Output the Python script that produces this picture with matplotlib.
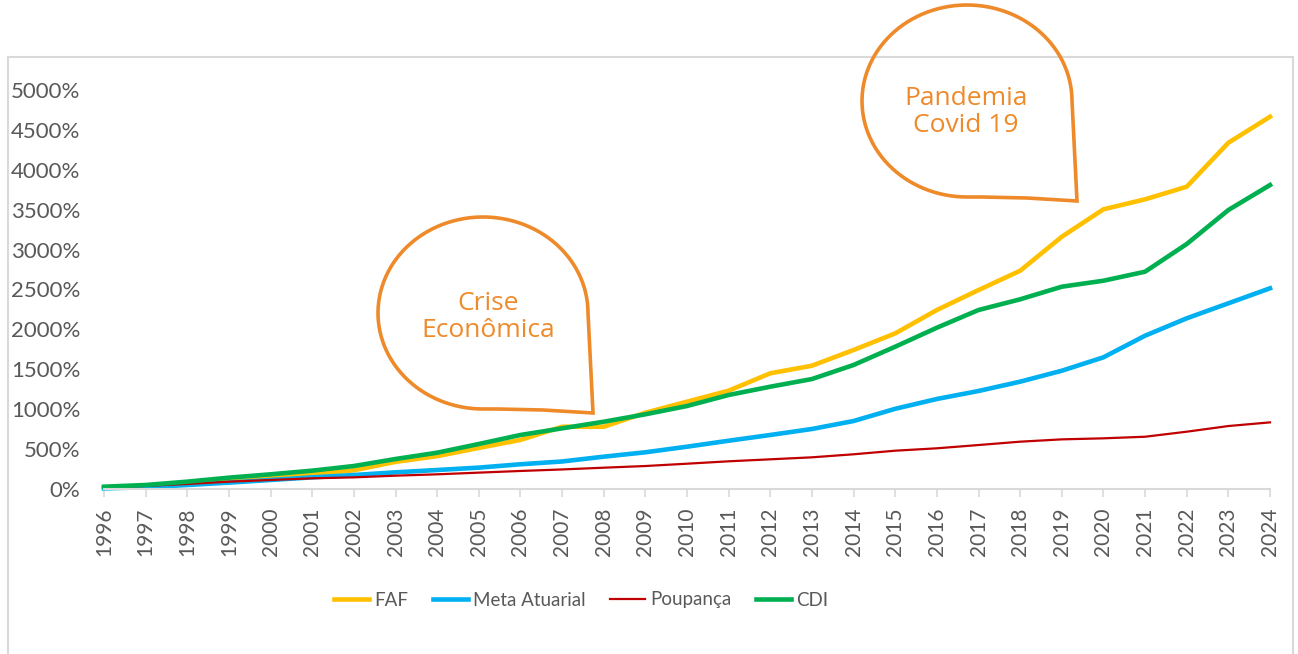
import numpy as np
import matplotlib

matplotlib.use("Agg")
import matplotlib.pyplot as plt
from matplotlib.patches import Rectangle, PathPatch
from matplotlib.path import Path


YEARS = list(range(1996, 2025))

FAF = [20, 40, 75, 113, 146, 184, 235, 340, 412, 515, 615, 780, 780, 956, 1094,
       1232, 1450, 1545, 1742, 1950, 2243, 2493, 2735, 3161, 3505, 3630, 3788, 4339, 4665]
META = [8, 22, 50, 80, 113, 146, 175, 209, 238, 268, 310, 345, 405, 460, 530,
        605, 677, 752, 852, 1005, 1128, 1228, 1345, 1482, 1650, 1921, 2139, 2327, 2515]
POUPANCA = [20, 38, 63, 92, 113, 134, 146, 167, 184, 205, 226, 245, 267, 288, 317,
            347, 372, 397, 435, 480, 510, 551, 593, 622, 635, 655, 718, 789, 835]
CDI = [29, 50, 92, 142, 184, 230, 288, 376, 455, 564, 677, 760, 843, 936, 1040,
       1178, 1282, 1378, 1554, 1783, 2021, 2243, 2377, 2535, 2610, 2723, 3070, 3496, 3809]

Y_TICKS = list(range(0, 5001, 500))

CALLOUTS = [
    ("Crise\nEconômica", (483, 313), (488, 317)),
    ("Pandemia\nCovid 19", (967, 101), (966, 112)),
]

W, H = 1298, 654
GREY_TEXT = "#595959"
ORANGE = "#EE8A2A"
FONT = "Lato"


def px(x, y):
    # pixel coords (top-left origin) -> figure fraction
    return x / W, 1 - y / H


def bubble_path(cx, cy, rx=105, ry=96):
    # speech bubble: ellipse with the lower-right quarter replaced by a pointed tail
    a = np.linspace(np.pi / 2, 2 * np.pi, 90)  # bottom -> left -> top -> right (y down)
    pts = [px(cx + rx * np.cos(t), cy + ry * np.sin(t)) for t in a]
    pts.append(px(cx + rx + 2, cy + 40))
    pts.append(px(cx + rx + 5, cy + ry + 4))
    pts.append(px(cx + 60, cy + ry + 1))
    pts.append(px(cx + 15, cy + ry))
    pts.append(pts[0])
    return Path(pts)


fig = plt.figure(figsize=(W / 100, H / 100), dpi=100)
plt.rcParams["font.family"] = [FONT, "DejaVu Sans"]

# chart frame
fig.patches.append(Rectangle(px(8, 660), (1293 - 8) / W, (660 - 57) / H,
                             transform=fig.transFigure, fill=False,
                             edgecolor="#d9d9d9", linewidth=1.5))

left, right = px(104, 0)[0], px(1270, 0)[0]
bottom, top = px(0, 489)[1], px(0, 90)[1]
ax = fig.add_axes([left, bottom, right - left, top - bottom])

ax.plot(YEARS, FAF, color="#FFC000", linewidth=3.3, label="FAF", clip_on=False)
ax.plot(YEARS, META, color="#00B0F0", linewidth=3.3, label="Meta Atuarial", clip_on=False)
ax.plot(YEARS, POUPANCA, color="#C00000", linewidth=1.6, label="Poupança", clip_on=False)
ax.plot(YEARS, CDI, color="#00B050", linewidth=3.3, label="CDI", clip_on=False)

ax.set_xlim(YEARS[0], YEARS[-1])
ax.set_ylim(0, 5000)
ax.set_xticks(YEARS)
ax.set_xticklabels([str(y) for y in YEARS], rotation=90, fontsize=15, color=GREY_TEXT)
ax.set_yticks(Y_TICKS)
ax.set_yticklabels([f"{v}%" for v in Y_TICKS], fontsize=16, color=GREY_TEXT)
ax.tick_params(axis="y", length=0, pad=17)
ax.tick_params(axis="x", length=5.5, width=1.2, color="#d9d9d9", pad=8)

for side in ("top", "right", "left"):
    ax.spines[side].set_visible(False)
ax.spines["bottom"].set_color("#d9d9d9")
ax.spines["bottom"].set_linewidth(1.5)

leg = fig.legend(loc="center", bbox_to_anchor=px(581, 600), ncol=4, frameon=False,
                 fontsize=13.5, handlelength=1.9, handletextpad=0.25, columnspacing=1.3)
for text in leg.get_texts():
    text.set_color(GREY_TEXT)

for label, (cx, cy), (tx, ty) in CALLOUTS:
    fig.patches.append(PathPatch(bubble_path(cx, cy), transform=fig.transFigure,
                                 facecolor="none", edgecolor=ORANGE, linewidth=2.6,
                                 joinstyle="miter"))
    fig.text(*px(tx, ty), label, ha="center", va="center", color=ORANGE,
             fontsize=19, linespacing=1.08, family="Open Sans")

fig.savefig("out.png", dpi=100)
